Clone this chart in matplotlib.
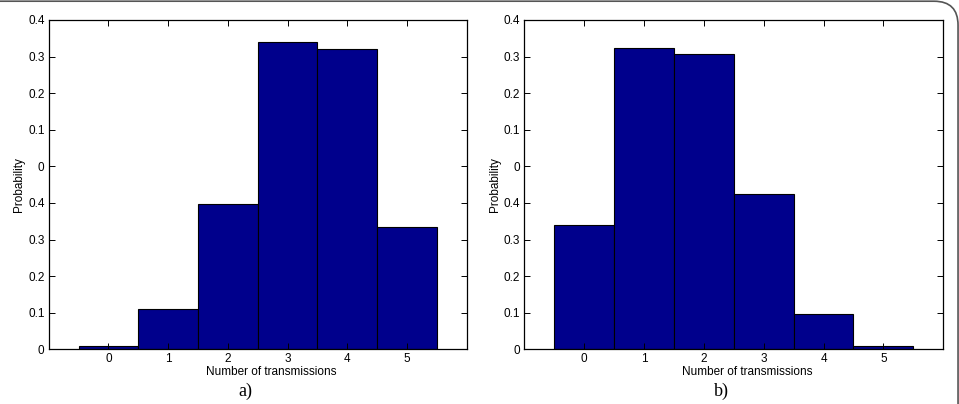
import matplotlib.pyplot as plt
from matplotlib.patches import FancyBboxPatch

# transmissions count and probability for the two cases
transmissions = [0, 1, 2, 3, 4, 5]
prob_a = [0.0036, 0.0438, 0.159, 0.3356, 0.328, 0.1334]
prob_b = [0.136, 0.329, 0.3225, 0.170, 0.039, 0.0036]

# y ticks as printed on the original figure
ytick_pos = [0, 0.04, 0.08, 0.12, 0.16, 0.20, 0.24, 0.28, 0.32, 0.36]
ytick_labels = ['0', '0.1', '0.2', '0.3', '0.4', '0', '0.1', '0.2', '0.3', '0.4']
panel_names = ['a)', 'b)']

bar_color = '#00008C'

plt.rcParams['font.family'] = ['Liberation Sans', 'DejaVu Sans']

fig = plt.figure(figsize=(9.59, 4.04), dpi=100)

# frame around the whole figure (only top and right edges show)
frame = FancyBboxPatch((-0.05, -0.1), 1.049, 1.097,
                       boxstyle='round,pad=0,rounding_size=0.025',
                       transform=fig.transFigure, facecolor='none',
                       edgecolor='#555555', linewidth=1.2, mutation_aspect=959/404)
fig.patches.append(frame)

axes_boxes = [[0.0508, 0.1354, 0.4359, 0.8151],
              [0.5467, 0.1354, 0.4369, 0.8151]]

for box, probs, name in zip(axes_boxes, [prob_a, prob_b], panel_names):
    ax = fig.add_axes(box)
    ax.bar(transmissions, probs, width=1.0, color=bar_color,
           edgecolor='black', linewidth=0.8)
    ax.set_xlim(-1, 6)
    ax.set_ylim(0, 0.36)
    ax.set_xticks(transmissions)
    ax.set_yticks(ytick_pos)
    ax.set_yticklabels(ytick_labels)
    ax.tick_params(direction='in', top=True, right=True, length=4,
                   width=0.7, labelsize=8.5, pad=3)
    for s in ax.spines.values():
        s.set_linewidth(0.9)
    ax.set_xlabel('Number of transmissions', fontsize=8.5)
    ax.xaxis.set_label_coords(0.533, -0.05, transform=ax.transAxes)
    ax.set_ylabel('Probability', fontsize=8.5, labelpad=2)
    ax.text(0.47, -0.128, name, transform=ax.transAxes, ha='center', va='center',
            fontsize=13, family='Liberation Serif')

fig.savefig('out.png', dpi=100)
